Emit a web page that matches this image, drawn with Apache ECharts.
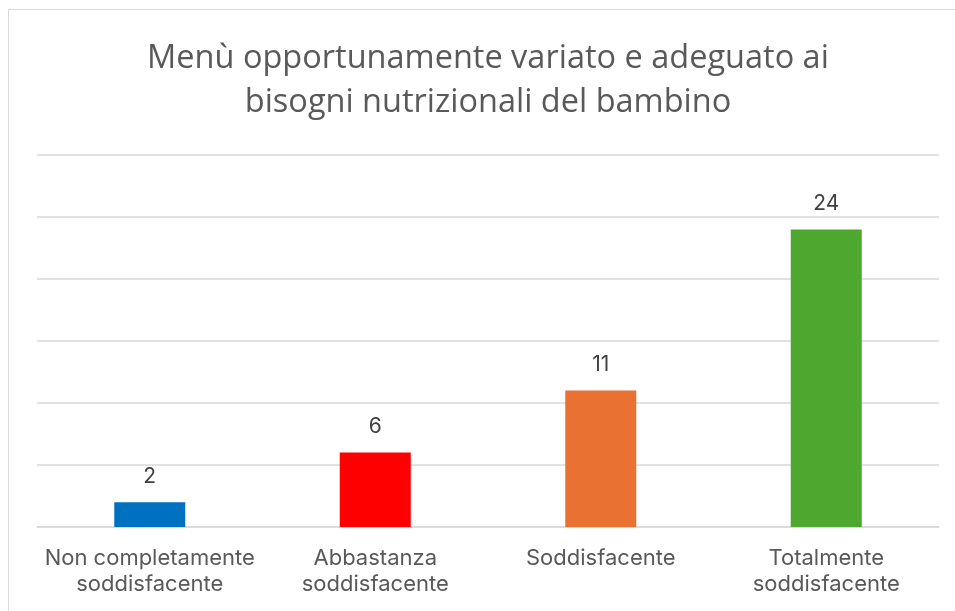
<!DOCTYPE html>
<html><head><meta charset="utf-8">
<script src="https://cdn.jsdelivr.net/npm/echarts@6/dist/echarts.min.js"></script>
<style>html,body{margin:0;padding:0;background:#fff}#c{width:955px;height:611px}</style>
</head><body><div id="c"></div>
<script>
const titleText = "Menù opportunamente variato e adeguato ai\nbisogni nutrizionali del bambino";
const categories = ["Non completamente\nsoddisfacente", "Abbastanza\nsoddisfacente", "Soddisfacente", "Totalmente\nsoddisfacente"];
const values = [2, 6, 11, 24];
const colors = ["#0070C0", "#FF0000", "#E97132", "#4EA72E"];

const chart = echarts.init(document.getElementById('c'));
chart.setOption({
  animation: false,
  graphic: [{
    type: 'rect', silent: true, z: -1,
    shape: {x: 8.5, y: 9.5, width: 960, height: 620},
    style: {fill: 'none', stroke: '#D9D9D9', lineWidth: 1}
  }],
  title: {
    text: titleText, left: 483, top: 32, textAlign: 'center',
    textStyle: {fontFamily: 'Open Sans', fontSize: 32.5, fontWeight: 'normal', color: '#595959', lineHeight: 44}
  },
  grid: {left: 37, right: 16, top: 155, bottom: 84, containLabel: false},
  xAxis: {
    type: 'category', data: categories,
    axisLine: {show: true, lineStyle: {color: '#D9D9D9', width: 1.5}},
    axisTick: {show: false},
    axisLabel: {fontFamily: 'Inter', fontSize: 22, color: '#595959', lineHeight: 26, margin: 18, interval: 0}
  },
  yAxis: {
    type: 'value', min: 0, max: 30, interval: 5,
    axisLabel: {show: false}, axisLine: {show: false}, axisTick: {show: false},
    splitLine: {lineStyle: {color: '#D9D9D9', width: 1.5}}
  },
  series: [{
    type: 'bar', barWidth: 71,
    data: values.map((v, i) => ({value: v, itemStyle: {color: colors[i]}})),
    label: {show: true, position: 'top', distance: 15, fontFamily: 'Inter', fontSize: 21, color: '#404040'}
  }]
});
</script></body></html>
